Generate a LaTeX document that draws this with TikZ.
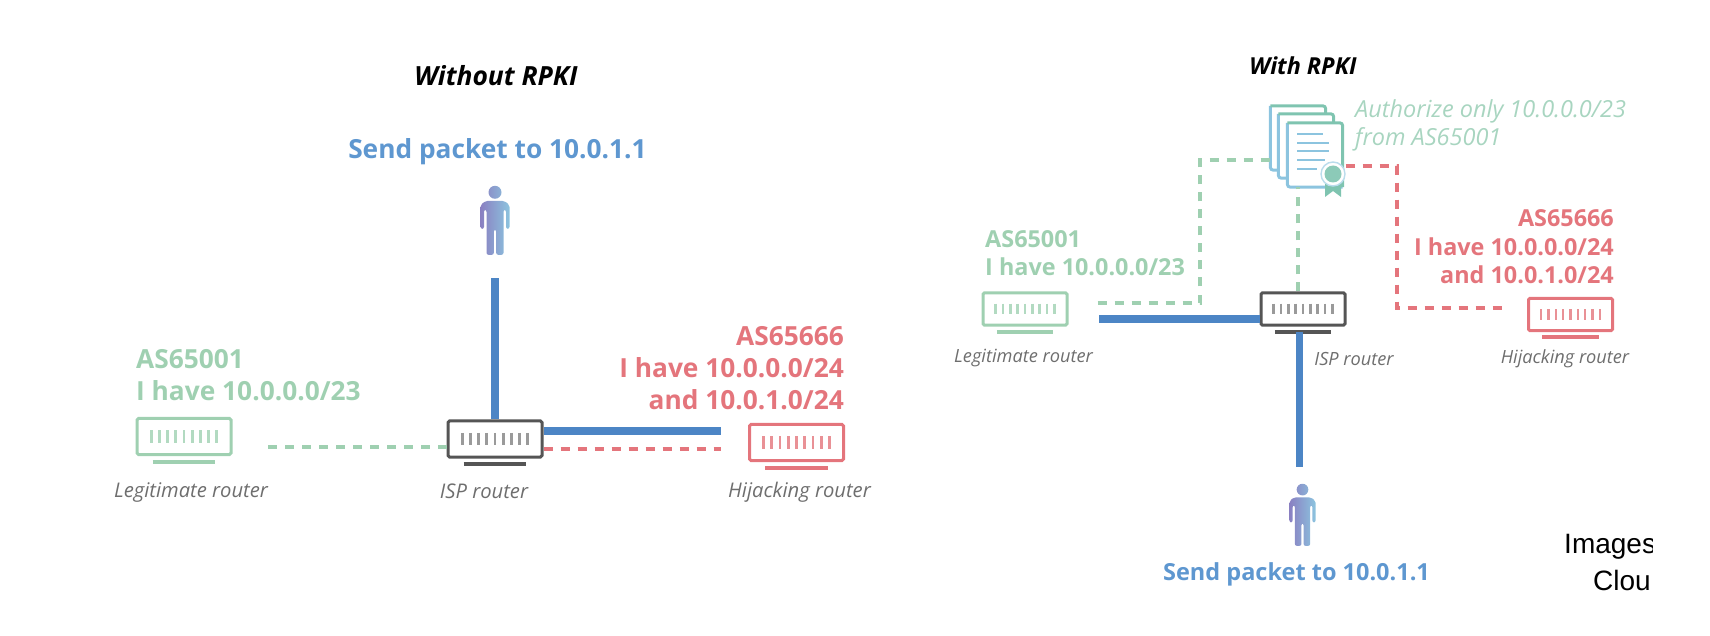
\documentclass[tikz,border=0pt]{standalone}
\usepackage{fontspec}
\setmainfont{Open Sans}
\newfontfamily\helv{Liberation Sans}
\usetikzlibrary{positioning}
\definecolor{greenc}{HTML}{9FD0B1}
\definecolor{redc}{HTML}{E4757C}
\definecolor{bluec}{HTML}{4C85C5}
\definecolor{bluet}{HTML}{5E97D0}
\definecolor{authc}{HTML}{A8D5C0}
\definecolor{greyc}{HTML}{6E6E6E}
\definecolor{darkc}{HTML}{555555}
\definecolor{tealc}{HTML}{7FC4B0}
\definecolor{skyc}{HTML}{8CC4DF}
\definecolor{purpc}{HTML}{8A80C2}
\tikzset{
   routerbox/.style={draw,line width=3pt,rounded corners=1.5pt,inner sep=0pt},
   bluepath/.style={bluec,line width=8.5pt},
   dashpath/.style={line width=4.8pt,dash pattern=on 9pt off 8pt},
   tag/.style={inner sep=0pt,font=\fontsize{#1}{#1}\selectfont\itshape,text=greyc},
   title/.style={inner sep=0pt,font=\fontsize{#1}{#1}\selectfont\bfseries\itshape},
   sendlabel/.style={inner sep=0pt,font=\fontsize{#1}{#1}\selectfont\bfseries,text=bluet},
   page/.style={draw=white,fill=white,rounded corners=2pt,inner sep=0pt,minimum width=55pt,minimum height=64pt}
}
% name, x, y, colour, tick colour, width
\newcommand{\router}[6]{
   \pgfmathsetmacro{\rw}{#6}
   \node[routerbox,draw=#4,minimum width=\rw pt,minimum height=.385*\rw pt] (#1) at (#2,#3) {};
   \foreach \k in {-4,...,4}
      \draw[#5,line width=.03*\rw pt] ([xshift=\k*.0875*\rw pt,yshift=.065*\rw pt]#1.center) -- ([xshift=\k*.0875*\rw pt,yshift=-.065*\rw pt]#1.center);
   \draw[#4,line width=3.6pt] ([xshift=-.335*\rw pt,yshift=-.06*\rw pt]#1.south) -- ([xshift=.335*\rw pt,yshift=-.06*\rw pt]#1.south);
}
% name, x, y, scale
\newcommand{\person}[4]{
   \node[inner sep=0pt,minimum width=#4*29pt,minimum height=#4*69pt] (#1) at (#2,#3) {};
   \begin{scope}[shift={(#1.north)},x=#4*1pt,y=-#4*1pt]
      \shade[left color=purpc,right color=skyc,rounded corners=2pt]
         (0,6.5) circle[radius=#4*6.5pt]
         (-9,15) -- (9,15) -- (14.5,19) -- (14.5,43) -- (11,43) -- (11,24) -- (8.5,24) -- (8.5,69) -- (1.2,69) -- (1.2,44)
         -- (-1.2,44) -- (-1.2,69) -- (-8.5,69) -- (-8.5,24) -- (-11,24) -- (-11,43) -- (-14.5,43) -- (-14.5,19) -- cycle;
   \end{scope}
}
% name, x, y
\newcommand{\docpage}[3]{
   \node[page] (#1) at (#2,#3) {};
   \draw[skyc,line width=3pt,rounded corners=3pt] (#1.north west) -- (#1.south west) -- (#1.south east);
   \draw[tealc,line width=3pt,rounded corners=3pt] (#1.north west) -- (#1.north east) -- (#1.south east);
}
\begin{document}
\begin{tikzpicture}[x=1pt,y=-1pt,node distance=55pt,on grid]
   \useasboundingbox (0,0) rectangle (1710,636);
   % without RPKI
   \router{legit_l}{184}{436.5}{greenc}{greenc!80}{94}
   \router{isp_l}{495}{439}{darkc}{greyc!70}{94}
   \router{hijack_l}{796.5}{442.5}{redc}{redc!80}{94}
   \person{user_l}{495}{220.5}{1}
   \node[title=26.4] (head_l) at (496,76) {Without RPKI};
   \node[sendlabel=26.3] (send_l) [above=68.5pt of user_l,xshift=2.5pt] {Send packet to 10.0.1.1};
   \node[tag=20.2] (tag_a) [below=56.5pt of legit_l,xshift=7pt] {Legitimate router};
   \node[tag=20.2] (tag_b) [below=52.5pt of isp_l,xshift=-11pt] {ISP router};
   \node[tag=20.2] (tag_c) [below=50pt of hijack_l,xshift=3pt] {Hijacking router};
   \node[inner sep=0pt,anchor=west,align=left,text=greenc,font=\fontsize{26.3}{32}\selectfont\bfseries] (as_a) at (136,375) {AS65001\\I have 10.0.0.0/23};
   \node[inner sep=0pt,anchor=east,align=right,text=redc,font=\fontsize{26.3}{32}\selectfont\bfseries] (as_b) at (844,368) {AS65666\\I have 10.0.0.0/24\\and 10.0.1.0/24};
   \draw[bluepath,shorten >=23pt] (isp_l.north) -- (user_l.south);
   \draw[bluepath,shorten >=27pt] ([yshift=8pt]isp_l.east) -- ([yshift=11.5pt]hijack_l.west);
   \draw[greenc,dashpath,shorten >=32pt] ([yshift=-8pt]isp_l.west) -- ([yshift=-10.5pt]legit_l.east);
   \draw[redc,dashpath,shorten >=27pt] ([yshift=-10pt]isp_l.east) -- ([yshift=-6.5pt]hijack_l.west);
   % with RPKI
   \router{legit_r}{1025}{309}{greenc}{greenc!80}{84}
   \router{isp_r}{1303}{309}{darkc}{greyc!70}{84}
   \router{hijack_r}{1570.5}{314.5}{redc}{redc!80}{84}
   \person{user_r}{1302.5}{515}{.9}
   \docpage{doc_back}{1298}{138}
   \docpage{doc_mid}{1306}{146}
   \docpage{doc_front}{1315}{155}
   \foreach \ly/\lx in {134/1323,143/1329,151/1329,160/1325,169/1317}
      \draw[skyc,line width=2pt] (1297,\ly) -- (\lx,\ly);
   \path[fill=tealc] (1325,178) -- (1325,197) -- (1333,191) -- (1341,197) -- (1341,178) -- cycle;
   \node[circle,fill=white,draw=skyc!60,line width=1.4pt,minimum size=24pt,inner sep=0pt] (seal) at (1333,174) {};
   \node[circle,fill=tealc!90!white,minimum size=17pt,inner sep=0pt] (seal_c) at (seal) {};
   \node[title=23.4] (head_r) at (1303,66) {With RPKI};
   \node[sendlabel=23.5] (send_r) [below=59pt of user_r,xshift=-6pt] {Send packet to 10.0.1.1};
   \node[tag=18.2] (tag_d) [below=49.5pt of legit_r,xshift=-1.5pt] {Legitimate router};
   \node[tag=18.2] (tag_e) [below=49.5pt of isp_r,xshift=51pt] {ISP router};
   \node[tag=18.2] (tag_f) [below=44pt of hijack_r,xshift=-5.5pt] {Hijacking router};
   \node[inner sep=0pt,anchor=west,align=left,text=greenc,font=\fontsize{23.4}{28}\selectfont\bfseries] (as_c) at (985,253) {AS65001\\I have 10.0.0.0/23};
   \node[inner sep=0pt,anchor=east,align=right,text=redc,font=\fontsize{23.4}{28.5}\selectfont\bfseries] (as_d) at (1614,247) {AS65666\\I have 10.0.0.0/24\\and 10.0.1.0/24};
   \node[inner sep=0pt,anchor=west,align=left,text=authc,font=\fontsize{23.5}{28.5}\selectfont\itshape] (auth) at (1355,125.5) {Authorize only 10.0.0.0/23\\from AS65001};
   \coordinate (g_bend) at (1200,160);
   \coordinate (r_bend) at (1397,166);
   \draw[bluepath,line width=7.5pt,shorten >=30pt] ([yshift=-10pt]isp_r.west) -- ([yshift=-10pt]legit_r.east);
   \draw[bluepath,line width=7.5pt,shorten <=5pt,shorten >=17pt] ([xshift=-3.5pt]isp_r.south) -- ([xshift=-3.5pt]isp_r.south |- user_r.north);
   \draw[greenc,dashpath,shorten <=29pt] ([yshift=6pt]legit_r.east) -| (g_bend) -- (doc_back.west |- g_bend);
   \draw[greenc,dashpath] ([xshift=-5pt]isp_r.north) -- ([xshift=-5pt]isp_r.north |- doc_front.south);
   \draw[redc,dashpath,shorten >=22pt] (seal.east |- r_bend) -- (r_bend) |- ([yshift=6.5pt]hijack_r.west);
   % cut off at the edge of the crop
   \begin{scope}
      \clip (1500,520) rectangle (1652,610);
      \node[inner sep=0pt,anchor=west,font=\helv\fontsize{28}{28}\selectfont] (img_a) at (1564,547) {Images};
      \node[inner sep=0pt,anchor=west,font=\helv\fontsize{28}{28}\selectfont] (img_b) at (1593,580) {Clou};
   \end{scope}
\end{tikzpicture}
\end{document}
